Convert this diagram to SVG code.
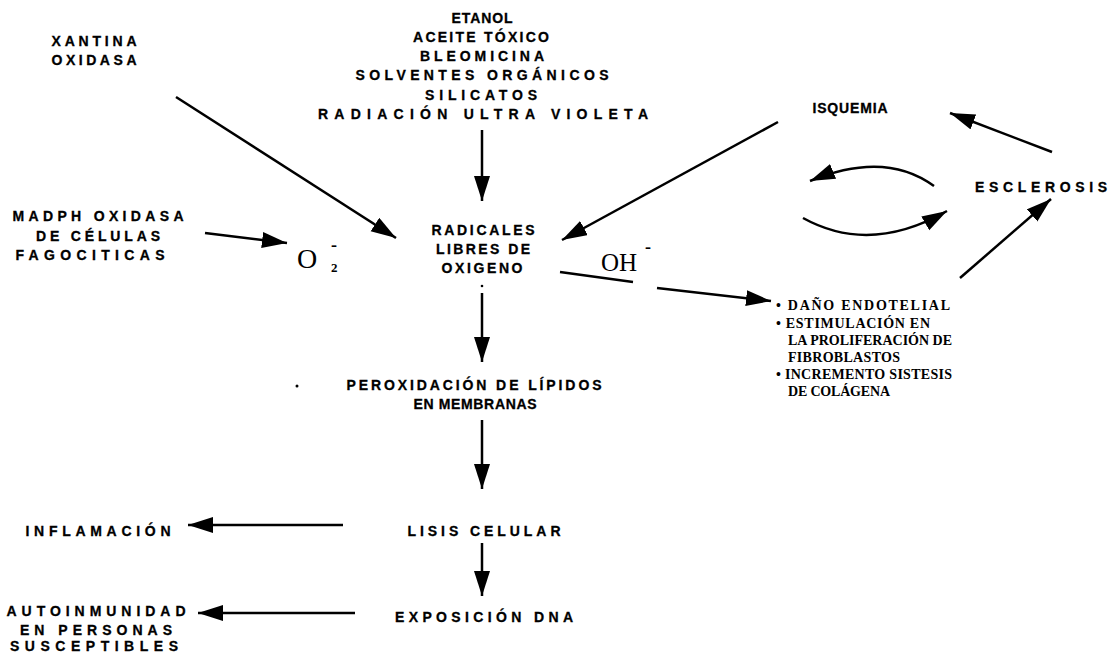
<svg xmlns="http://www.w3.org/2000/svg" width="1112" height="652" viewBox="0 0 1112 652">
<defs>
<marker id="ah" markerUnits="userSpaceOnUse" markerWidth="28" markerHeight="18" refX="25" refY="8" orient="auto">
<path d="M0,0 L25,8 L0,16 Z" fill="#000"/>
</marker>
<style>
.t{font-family:"Liberation Sans",Arial,sans-serif;font-weight:bold;font-size:14px;fill:#000;text-anchor:middle;stroke:#000;stroke-width:0.3}
.s{font-family:"Liberation Serif","Times New Roman",serif;font-weight:bold;font-size:14px;fill:#000}
.c{font-family:"Liberation Serif","Times New Roman",serif;fill:#000}
.e{fill:none;stroke:#000;stroke-width:2.5}
.a{fill:none;stroke:#000;stroke-width:2.5;marker-end:url(#ah)}
</style>
</defs>
<rect width="1112" height="652" fill="#fff"/>

<g id="agentes">
<text class="t" x="482" y="23" textLength="61" lengthAdjust="spacing">ETANOL</text>
<text class="t" x="481" y="42" textLength="136" lengthAdjust="spacing">ACEITE TÓXICO</text>
<text class="t" x="482" y="61" textLength="124" lengthAdjust="spacing">BLEOMICINA</text>
<text class="t" x="482" y="80" textLength="253" lengthAdjust="spacing">SOLVENTES ORGÁNICOS</text>
<text class="t" x="481" y="100" textLength="112" lengthAdjust="spacing">SILICATOS</text>
<text class="t" x="483" y="119" textLength="330" lengthAdjust="spacing">RADIACIÓN ULTRA VIOLETA</text>
</g>
<g id="xantina">
<text class="t" x="94" y="46" textLength="85" lengthAdjust="spacing">XANTINA</text>
<text class="t" x="94" y="65" textLength="85" lengthAdjust="spacing">OXIDASA</text>
</g>
<g id="madph">
<text class="t" x="98" y="221" textLength="171" lengthAdjust="spacing">MADPH OXIDASA</text>
<text class="t" x="98" y="241" textLength="124" lengthAdjust="spacing">DE CÉLULAS</text>
<text class="t" x="90" y="260" textLength="149" lengthAdjust="spacing">FAGOCITICAS</text>
</g>
<g id="o2">
<text class="c" x="297" y="268" font-size="28">O</text>
<text class="c" x="331" y="251" font-size="18" font-weight="bold">-</text>
<text class="c" x="331" y="272" font-size="13" font-weight="bold">2</text>
</g>
<g id="radicales">
<text class="t" x="483" y="235" textLength="103" lengthAdjust="spacing">RADICALES</text>
<text class="t" x="483" y="254" textLength="94" lengthAdjust="spacing">LIBRES DE</text>
<text class="t" x="482" y="273" textLength="81" lengthAdjust="spacing">OXIGENO</text>
</g>
<g id="oh">
<text class="c" x="601" y="271" font-size="25">OH</text>
<text class="c" x="645" y="253" font-size="18" font-weight="bold">-</text>
</g>
<g id="isquemia">
<text class="t" x="850" y="113" textLength="75" lengthAdjust="spacing">ISQUEMIA</text>
</g>
<g id="esclerosis">
<text class="t" x="1041" y="192" textLength="132" lengthAdjust="spacing">ESCLEROSIS</text>
</g>
<g id="dano">
<text class="s" x="776" y="310" textLength="174" lengthAdjust="spacing">• DAÑO ENDOTELIAL</text>
<text class="s" x="776" y="328" textLength="154" lengthAdjust="spacing">• ESTIMULACIÓN EN</text>
<text class="s" x="788" y="345" textLength="164" lengthAdjust="spacing">LA PROLIFERACIÓN DE</text>
<text class="s" x="788" y="362" textLength="112" lengthAdjust="spacing">FIBROBLASTOS</text>
<text class="s" x="776" y="379" textLength="176" lengthAdjust="spacing">• INCREMENTO SISTESIS</text>
<text class="s" x="788" y="396" textLength="102" lengthAdjust="spacing">DE COLÁGENA</text>
</g>
<g id="peroxidacion">
<circle cx="297" cy="386" r="1.5" fill="#000"/>
<text class="t" x="474" y="390" textLength="255" lengthAdjust="spacing">PEROXIDACIÓN DE LÍPIDOS</text>
<text class="t" x="475" y="409" textLength="123" lengthAdjust="spacing">EN MEMBRANAS</text>
</g>
<g id="lisis">
<text class="t" x="484" y="536" textLength="153" lengthAdjust="spacing">LISIS CELULAR</text>
</g>
<g id="inflamacion">
<text class="t" x="98" y="536" textLength="145" lengthAdjust="spacing">INFLAMACIÓN</text>
</g>
<g id="exposicion">
<text class="t" x="484" y="622" textLength="178" lengthAdjust="spacing">EXPOSICIÓN DNA</text>
</g>
<g id="autoinmunidad">
<text class="t" x="96" y="616" textLength="179" lengthAdjust="spacing">AUTOINMUNIDAD</text>
<text class="t" x="96" y="635" textLength="152" lengthAdjust="spacing">EN PERSONAS</text>
<text class="t" x="94" y="651" textLength="168" lengthAdjust="spacing">SUSCEPTIBLES</text>
</g>

<g id="connectors">
<path class="a" d="M176,97 L396,238"/>
<path class="a" d="M482,130 L482,201"/>
<path class="a" d="M778,122 L562,240"/>
<path class="a" d="M205,233 L287,243"/>
<path class="e" d="M560,272 L633,282"/>
<path class="a" d="M657,288 L771,301"/>
<path class="a" d="M1052,152 L950,113"/>
<path class="a" d="M934,186 Q885,150 810,181"/>
<path class="a" d="M803,218 Q870,255 947,211"/>
<path class="a" d="M960,278 L1051,199"/>
<circle cx="482" cy="286" r="1.3" fill="#000"/>
<path class="a" d="M482,293 L482,362"/>
<path class="a" d="M482,420 L482,489"/>
<path class="a" d="M343,525 L188,525"/>
<path class="a" d="M482,543 L482,596"/>
<path class="a" d="M355,613 L198,613"/>
</g>
</svg>
